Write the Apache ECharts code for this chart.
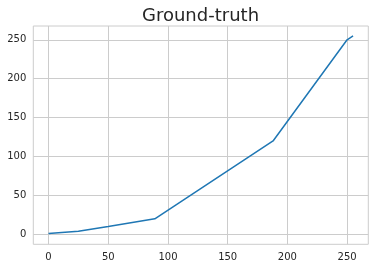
<!DOCTYPE html>
<html><head><meta charset="utf-8">
<script src="https://cdn.jsdelivr.net/npm/echarts@6/dist/echarts.min.js"></script>
<style>html,body{margin:0;padding:0;background:#fff}#c{width:375px;height:268px}</style>
</head><body><div id="c"></div>
<script>
var xValues = [0, 25, 50, 89, 188, 250, 255];
var yValues = [1, 4, 10, 20, 120, 250, 255];
var xTicks = [0, 50, 100, 150, 200, 250];
var yTicks = [0, 50, 100, 150, 200, 250];
var titleText = 'Ground-truth';

var data = xValues.map(function (x, i) { return [x, yValues[i]]; });
var chart = echarts.init(document.getElementById('c'), null, {renderer: 'canvas'});
var fontFam = 'DejaVu Sans';
chart.setOption({
  animation: false,
  backgroundColor: '#fff',
  title: {text: titleText, left: 142, top: 7, padding: 0,
    textStyle: {fontFamily: fontFam, fontSize: 18, fontWeight: 'normal', color: '#262626'}},
  grid: {left: 33.3, right: 6.7, top: 26, bottom: 23.7, show: true, borderColor: '#cccccc', borderWidth: 1},
  xAxis: {type: 'value', min: -12.75, max: 267.75,
    axisLine: {show: false},
    axisTick: {show: false, customValues: xTicks},
    axisLabel: {customValues: xTicks, fontFamily: fontFam, fontSize: 10, color: '#262626', margin: 8},
    splitLine: {show: true, lineStyle: {color: '#cccccc', width: 1}}},
  yAxis: {type: 'value', min: -12.75, max: 267.75,
    axisLine: {show: false},
    axisTick: {show: false, customValues: yTicks},
    axisLabel: {customValues: yTicks, fontFamily: fontFam, fontSize: 10, color: '#262626', margin: 7},
    splitLine: {show: true, lineStyle: {color: '#cccccc', width: 1}}},
  series: [{type: 'line', data: data, showSymbol: false, symbol: 'none',
    lineStyle: {color: '#1f77b4', width: 1.5}}]
});
</script></body></html>
